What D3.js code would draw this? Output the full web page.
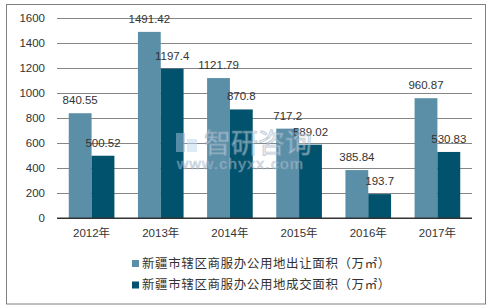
<!DOCTYPE html>
<html lang="zh">
<head>
<meta charset="utf-8">
<title>新疆市辖区商服办公用地</title>
<script src="https://cdn.jsdelivr.net/npm/d3@7"></script>
<style>
  body { margin: 0; background: #fff; }
  text { font-family: "Liberation Sans", Arial, sans-serif; }
</style>
</head>
<body>
<script>
// data
var years = ["2012年", "2013年", "2014年", "2015年", "2016年", "2017年"];
var transferArea = [840.55, 1491.42, 1121.79, 717.2, 385.84, 960.87];
var dealArea = [500.52, 1197.4, 870.8, 589.02, 193.7, 530.83];
var seriesNames = ["新疆市辖区商服办公用地出让面积（万㎡）", "新疆市辖区商服办公用地成交面积（万㎡）"];
var seriesColors = ["#5b8fa8", "#01536d"];
var yTicks = [0, 200, 400, 600, 800, 1000, 1200, 1400, 1600];

var w = 491, h = 308;
var margin = { top: 18.3, left: 57, right: 19, bottom: 89.7 };

var svg = d3.select("body").append("svg")
    .attr("width", w)
    .attr("height", h);

// outer frame
svg.append("rect")
    .attr("x", 6.5).attr("y", 4.5)
    .attr("width", 479).attr("height", 299.5)
    .attr("fill", "none")
    .attr("stroke", "#808080")
    .attr("stroke-width", 1);

var x0 = d3.scaleBand()
    .domain(years)
    .range([margin.left, w - margin.right])
    .paddingInner(0.34)
    .paddingOuter(0.17);

var x1 = d3.scaleBand()
    .domain([0, 1])
    .range([0, x0.bandwidth()]);

var y = d3.scaleLinear()
    .domain([0, 1600])
    .range([h - margin.bottom, margin.top]);

// gridlines + y labels
var yAxis = d3.axisLeft(y)
    .tickValues(yTicks)
    .tickSize(-(w - margin.left - margin.right))
    .tickPadding(12)
    .tickFormat(d3.format("d"));

var gy = svg.append("g")
    .attr("transform", "translate(" + margin.left + ",0)")
    .call(yAxis);
gy.select(".domain").remove();
gy.selectAll(".tick line").attr("stroke", "#868686").attr("shape-rendering", "crispEdges");
gy.selectAll(".tick text")
    .attr("fill", "#333")
    .style("font-size", "11.5px");

// bars
var series = [transferArea, dealArea];
var groups = svg.selectAll("g.year")
    .data(years)
    .enter().append("g")
    .attr("class", "year")
    .attr("transform", function(d) { return "translate(" + x0(d) + ",0)"; });

groups.selectAll("rect")
    .data(function(d, i) { return series.map(function(s, k) { return { k: k, v: s[i] }; }); })
    .enter().append("rect")
    .attr("x", function(d) { return x1(d.k); })
    .attr("y", function(d) { return y(d.v); })
    .attr("width", x1.bandwidth())
    .attr("height", function(d) { return y(0) - y(d.v); })
    .attr("fill", function(d) { return seriesColors[d.k]; });

groups.selectAll("text.val")
    .data(function(d, i) { return series.map(function(s, k) { return { k: k, v: s[i] }; }); })
    .enter().append("text")
    .attr("class", "val")
    .attr("x", function(d) { return x1(d.k) + x1.bandwidth() / 2; })
    .attr("y", function(d) { return y(d.v) - 9; })
    .attr("text-anchor", "middle")
    .attr("fill", "#333")
    .style("font-size", "11.5px")
    .text(function(d) { return d.v; });

// x axis
var xAxis = d3.axisBottom(x0).tickSize(0).tickPadding(11);
var gx = svg.append("g")
    .attr("transform", "translate(0," + y(0) + ")")
    .call(xAxis);
gx.select(".domain").attr("stroke", "#333").attr("stroke-width", 1.5)
    .attr("d", "M" + margin.left + ",0H" + (w - margin.right));
gx.selectAll(".tick text")
    .attr("fill", "#333")
    .style("font-size", "11.5px")
    .style("font-family", "'Liberation Sans', 'Noto Sans CJK SC', sans-serif");

// watermark, sits over the bars like in the source image
var wm = svg.append("g").attr("opacity", 0.55);
wm.append("rect").attr("x", 176).attr("y", 133).attr("width", 9).attr("height", 19).attr("fill", "#9dbad6");
wm.append("rect").attr("x", 187).attr("y", 139).attr("width", 10).attr("height", 13).attr("fill", "#c3dbef");
wm.append("text")
    .attr("x", 204).attr("y", 153)
    .style("font-family", "'Noto Sans CJK SC', sans-serif")
    .style("font-size", "27px")
    .attr("fill", "#e4ecf3")
    .attr("stroke", "#8fa5b9")
    .attr("stroke-width", 0.9)
    .text("智研咨询");
wm.append("text")
    .attr("x", 177).attr("y", 169)
    .style("font-size", "15.5px")
    .attr("letter-spacing", "1.3px")
    .attr("fill", "#e4ecf3")
    .attr("stroke", "#8fa5b9")
    .attr("stroke-width", 0.7)
    .text("www.chyxx.com");

// legend
var legend = svg.selectAll("g.legend")
    .data(seriesNames)
    .enter().append("g")
    .attr("class", "legend")
    .attr("transform", function(d, i) { return "translate(132," + (263 + i * 21.5) + ")"; });
legend.append("rect")
    .attr("x", 0).attr("y", -3)
    .attr("width", 7).attr("height", 7)
    .attr("fill", function(d, i) { return seriesColors[i]; });
legend.append("text")
    .attr("x", 10).attr("y", 4.5)
    .attr("fill", "#333")
    .style("font-size", "12.5px")
    .attr("letter-spacing", "0.6px")
    .style("font-family", "'Noto Sans CJK SC', sans-serif")
    .text(function(d) { return d; });
</script>
</body>
</html>
